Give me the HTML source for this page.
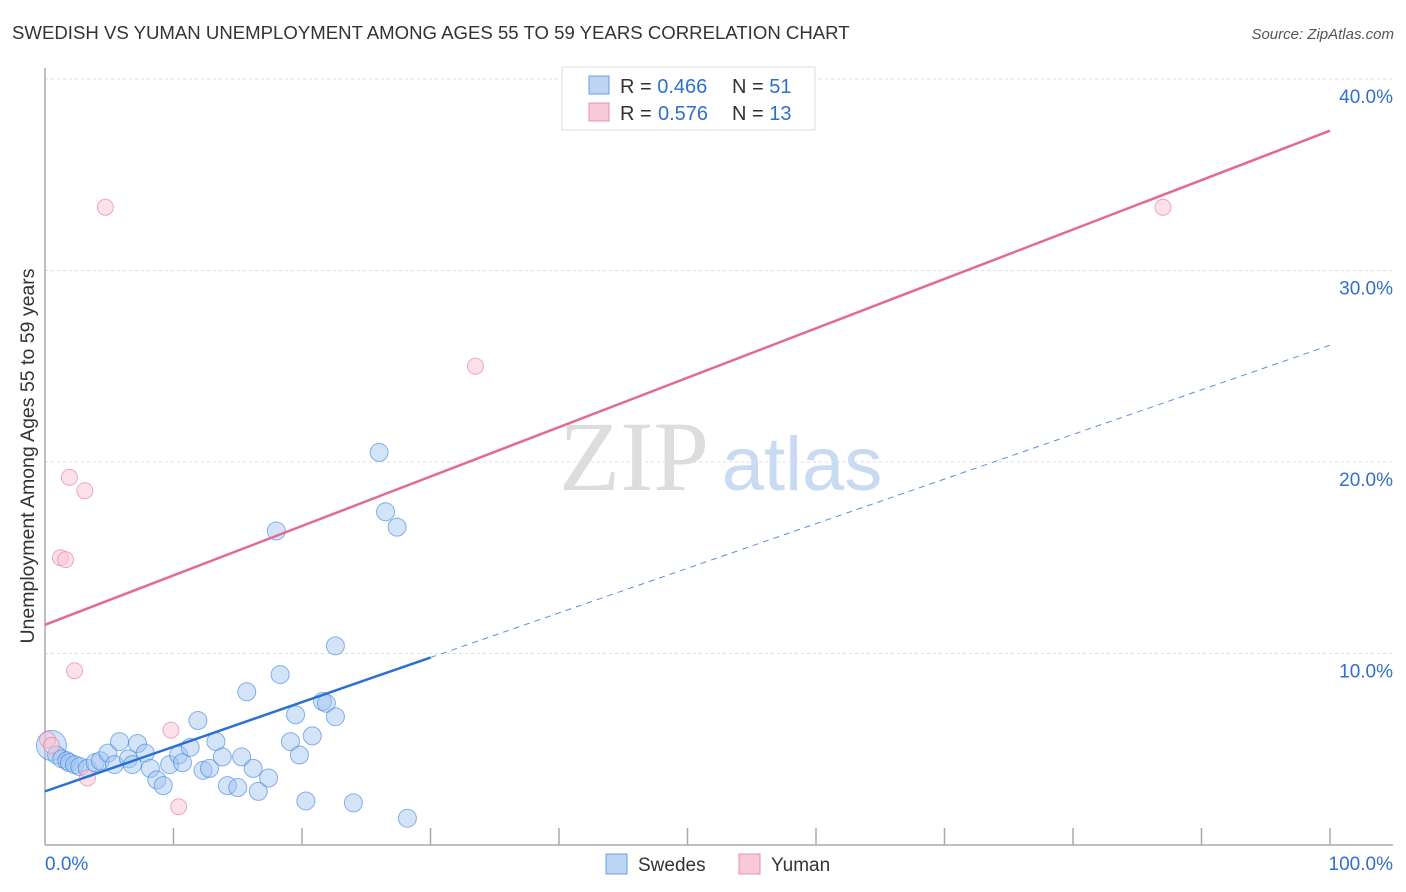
<!DOCTYPE html>
<html><head><meta charset="utf-8"><style>
body{margin:0;background:#fff;font-family:"Liberation Sans",sans-serif;}
svg{display:block}
</style></head><body>
<svg id="chart" width="1406" height="892">
<text x="12" y="39" font-size="18.6" fill="#333">SWEDISH VS YUMAN UNEMPLOYMENT AMONG AGES 55 TO 59 YEARS CORRELATION CHART</text>
<text x="1394" y="39" font-size="15" fill="#555" font-style="italic" text-anchor="end">Source: ZipAtlas.com</text>
<text transform="translate(34,456) rotate(-90)" font-size="19.5" fill="#333" text-anchor="middle">Unemployment Among Ages 55 to 59 years</text>
<text x="634" y="490" font-size="100" fill="#ddd" font-family="Liberation Serif,serif" text-anchor="middle">ZIP</text>
<text x="802" y="490" font-size="76" fill="#c9daf3" text-anchor="middle">atlas</text>
<g id="grid"></g><g id="axes"></g><g id="pts"></g><g id="lines"></g>
<g>
<rect x="562" y="67" width="253" height="63" fill="#fff" stroke="#ddd"/>
<rect x="589" y="76" width="20" height="18" fill="#bcd5f5" stroke="#6a9ee0"/>
<text x="620" y="93" font-size="20" fill="#333">R = <tspan fill="#2f6fd0">0.466</tspan><tspan x="732">N = </tspan><tspan fill="#2f6fd0">51</tspan></text>
<rect x="589" y="103" width="20" height="18" fill="#f9c9d7" stroke="#e890aa"/>
<text x="620" y="120" font-size="20" fill="#333">R = <tspan x="658" fill="#2f6fd0">0.576</tspan><tspan x="732">N = </tspan><tspan fill="#2f6fd0">13</tspan></text>
</g>
<g>
<rect x="606" y="854" width="21" height="20" fill="#bcd5f5" stroke="#6a9ee0"/>
<text x="638" y="871" font-size="19" fill="#333">Swedes</text>
<rect x="739" y="854" width="21" height="20" fill="#f9c9d7" stroke="#e890aa"/>
<text x="771" y="871" font-size="19" fill="#333">Yuman</text>
</g>
</svg>
<script>
const yTicks=[10,20,30,40];
const yTickLabels=["10.0%","20.0%","30.0%","40.0%"];
const xTicks=[10,20,30,40,50,60,70,80,90,100];
const swedesX=[0.5,0.9,1.3,1.7,1.9,2.3,2.7,3.3,3.9,4.3,4.9,5.4,5.8,6.5,6.8,7.2,7.8,8.2,8.7,9.2,9.7,10.4,10.7,11.3,11.9,12.3,12.8,13.3,13.8,14.2,15.0,15.3,15.7,16.2,16.6,17.4,18.0,18.3,19.1,19.5,19.8,20.3,20.8,21.6,21.9,22.6,22.6,24.0,26.0,26.5,27.4,28.2];
const swedesY=[5.2,4.7,4.5,4.4,4.3,4.2,4.1,4.0,4.3,4.4,4.8,4.2,5.4,4.5,4.2,5.3,4.8,4.0,3.4,3.1,4.2,4.7,4.3,5.1,6.5,3.9,4.0,5.4,4.6,3.1,3.0,4.6,8.0,4.0,2.8,3.5,16.4,8.9,5.4,6.8,4.7,2.3,5.7,7.5,7.4,6.7,10.4,2.2,20.5,17.4,16.6,1.4];
const yumanX=[0.2,0.5,1.2,1.6,1.9,2.3,3.1,3.3,4.7,9.8,10.4,33.5,87.0];
const yumanY=[5.5,5.2,15.0,14.9,19.2,9.1,18.5,3.5,33.3,6.0,2.0,25.0,33.3];
const swedesTrend=[2.8,0.233]; // intercept, slope
const yumanTrend=[11.5,0.258];
const X=v=>45+v*12.85, Y=v=>845-v*19.15;
const NS="http://www.w3.org/2000/svg";
function mk(p,t,a){const e=document.createElementNS(NS,t);for(const k in a)e.setAttribute(k,a[k]);document.getElementById(p).appendChild(e);return e;}
yTicks.forEach((t,i)=>{
 const l=mk('grid','line',{x1:45,x2:1393,y1:Y(t),y2:Y(t),stroke:'#ddd','stroke-dasharray':'3,3'});
 
 
 const tx=mk('grid','text',{x:1393,y:Y(t)+24,'font-size':19,fill:'#2f6fd0','text-anchor':'end'});
 tx.textContent=yTickLabels[i];
 
 
});
mk('axes','line',{x1:45,x2:45,y1:68,y2:845,stroke:'#aaa','stroke-width':1.5});
mk('axes','line',{x1:45,x2:1393,y1:845,y2:845,stroke:'#aaa','stroke-width':1.5});
xTicks.forEach(t=>{
 const l=mk('axes','line',{x1:X(t),x2:X(t),y1:828,y2:845,stroke:'#aaa','stroke-width':1.5});
 
 
});
const x0=mk('axes','text',{x:45,y:870,'font-size':19,fill:'#2f6fd0'});x0.textContent='0.0%';

const x1=mk('axes','text',{x:1393,y:870,'font-size':19,fill:'#2f6fd0','text-anchor':'end'});x1.textContent='100.0%';

swedesX.forEach((x,i)=>{
 const c=mk('pts','circle',{cx:X(x),cy:Y(swedesY[i]),r:i==0?15:9,fill:'rgba(160,195,240,0.45)',stroke:'rgba(60,130,220,0.6)','stroke-width':1});
 
 
});
yumanX.forEach((x,i)=>{
 const c=mk('pts','circle',{cx:X(x),cy:Y(yumanY[i]),r:8,fill:'rgba(249,195,212,0.5)',stroke:'rgba(230,120,150,0.6)','stroke-width':1});
 
 
});
const bs=mk('lines','line',{x1:X(0),y1:Y(swedesTrend[0]),x2:X(30),y2:Y(swedesTrend[0]+30*swedesTrend[1]),stroke:'#2a6fd6','stroke-width':2.5});


const bd=mk('lines','line',{x1:X(30),y1:Y(swedesTrend[0]+30*swedesTrend[1]),x2:X(100),y2:Y(swedesTrend[0]+100*swedesTrend[1]),stroke:'#5a8fdc','stroke-width':1,'stroke-dasharray':'6,5'});


const yl=mk('lines','line',{x1:X(0),y1:Y(yumanTrend[0]),x2:X(100),y2:Y(yumanTrend[0]+100*yumanTrend[1]),stroke:'#e26a95','stroke-width':2.5});


</script>
</body></html>
